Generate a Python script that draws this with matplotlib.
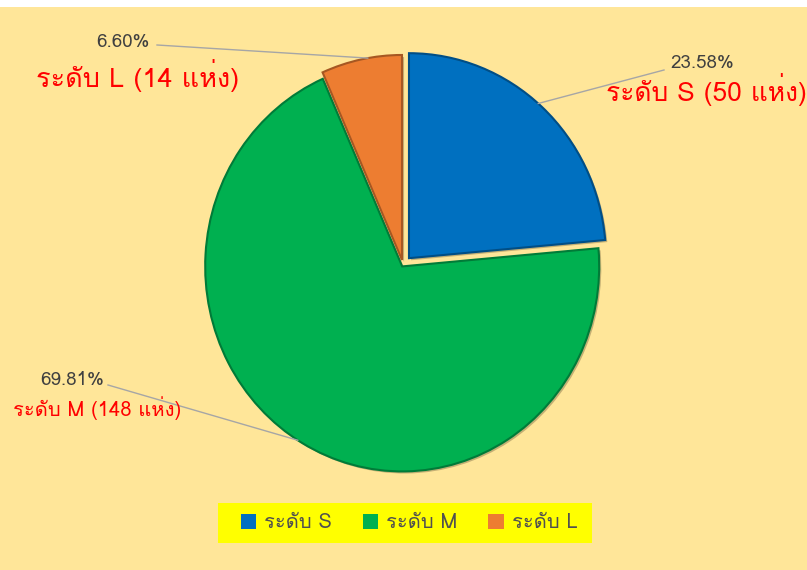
"""Pie chart: share of sites by level (S / M / L)."""

import numpy as np
import matplotlib
matplotlib.use("Agg")
import matplotlib.pyplot as plt
from matplotlib import font_manager
from matplotlib.ft2font import FT2Font
from matplotlib.patches import Rectangle
import matplotlib.patheffects as pe

levels = ["ระดับ S", "ระดับ M", "ระดับ L"]
counts = [50, 148, 14]
site_labels = ["ระดับ S (50 แห่ง)", "ระดับ M (148 แห่ง)", "ระดับ L (14 แห่ง)"]
colors = ["#0070C0", "#00B050", "#ED7D31"]

BG = "#FFE699"


def find_thai_font():
    for entry in font_manager.fontManager.ttflist:
        try:
            if ord("ด") in FT2Font(entry.fname).get_charmap():
                return entry.name
        except Exception:
            continue
    return None


thai = find_thai_font()
plt.rcParams["font.family"] = ([thai] if thai else []) + ["DejaVu Sans"]

W, H = 807, 570
fig = plt.figure(figsize=(W / 100, H / 100), dpi=100)
fig.patch.set_facecolor("white")
fig.patches.append(Rectangle((0, 0), 1, 1 - 7 / H, transform=fig.transFigure,
                             facecolor=BG, edgecolor="none", zorder=-10))

# overlay axes in pixel units (y from bottom) for labels
lab = fig.add_axes([0, 0, 1, 1])
lab.set_xlim(0, W)
lab.set_ylim(0, H)
lab.axis("off")

# pie axes: unit radius, placed so the ellipse matches the picture
cx, cy, rx, ry = 403, 265, 197, 205
ax = fig.add_axes([(cx - rx) / W, (H - cy - ry) / H, 2 * rx / W, 2 * ry / H])
explode = [0.045, 0.008, 0.025]
wedges, _ = ax.pie(
    counts,
    colors=colors,
    explode=explode,
    startangle=90,
    counterclock=False,
    radius=1,
    center=(0, 0),
    frame=True,
)
ax.set_xlim(-1, 1)
ax.set_ylim(-1, 1)
ax.set_aspect("auto")
ax.axis("off")

for w, c in zip(wedges, colors):
    w.set_path_effects([
        pe.SimplePatchShadow(offset=(1.5, -1.5), shadow_rgbFace="#8a7a50", alpha=0.5),
        pe.Normal(),
    ])
    w.set_edgecolor(tuple(np.array(matplotlib.colors.to_rgb(c)) * 0.7))
    w.set_linewidth(1.5)

total = sum(counts)
pct_text = [f"{v / total * 100:.2f}%" for v in counts]

# label positions (pixel coords from top)
pct_pos = [(702, 63), (72, 380), (123, 42)]
name_pos = [(706, 90), (97, 408), (138, 75)]
name_size = [19, 14.5, 19.5]
leader_start = [(664, 70), (108, 385), (157, 45)]
leader_angle = [49, 238, 100]

to_lab = ax.transData + lab.transData.inverted()
for i, w in enumerate(wedges):
    wx, wy = w.center
    ang = np.deg2rad(leader_angle[i])
    ex, ey = to_lab.transform((wx + np.cos(ang), wy + np.sin(ang)))
    sx, sy = leader_start[i]
    lab.plot([sx, ex], [H - sy, ey], color="#A6A6A6", lw=1.0, zorder=0.5)
    px, py = pct_pos[i]
    lab.text(px, H - py, pct_text[i], ha="center", va="center",
             fontsize=13.5, color="#404040")
    nx, ny = name_pos[i]
    lab.text(nx, H - ny, site_labels[i], ha="center", va="center",
             fontsize=name_size[i], color="red")
ax.set_zorder(0)
lab.set_zorder(1)
lab.patch.set_visible(False)

# legend box
fig.patches.append(Rectangle((218 / W, 1 - 543 / H), 374 / W, 40 / H,
                             transform=fig.transFigure, facecolor="#FFFF00",
                             edgecolor="none", zorder=-5))
handles = [plt.Rectangle((0, 0), 1, 1, facecolor=c, edgecolor="none") for c in colors]
leg = fig.legend(
    handles, levels,
    loc="center", bbox_to_anchor=(409 / W, 1 - 523 / H),
    ncol=3, frameon=False,
    fontsize=14.5, labelcolor="#505050",
    handlelength=0.75, handleheight=0.75, handletextpad=0.4,
    columnspacing=1.55, borderpad=0, borderaxespad=0,
)

fig.savefig("out.png", dpi=100, facecolor=fig.get_facecolor())
